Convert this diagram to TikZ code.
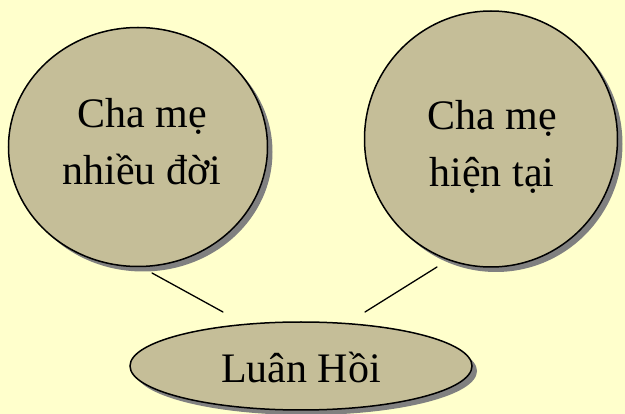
\documentclass[tikz,border=0pt]{standalone}
\usepackage{fontspec}
\setmainfont{Liberation Serif}
\usetikzlibrary{shapes.geometric,shadows}
\definecolor{bgyellow}{RGB}{255,255,204}
\definecolor{tanfill}{RGB}{197,190,152}
\definecolor{shadgray}{RGB}{128,128,128}
\begin{document}
\begin{tikzpicture}[x=1pt,y=-1pt,
  blob/.style={ellipse,draw=black,line width=1.5pt,fill=tanfill,inner sep=0pt,
    drop shadow={shadow xshift=5pt,shadow yshift=-5pt,fill=shadgray,opacity=1}},
  txt/.style={align=center,inner sep=0pt,font=\fontsize{42}{57}\selectfont},
  link/.style={line width=1.3pt,line cap=round}]
\fill[bgyellow] (0,0) rectangle (625,414);
\useasboundingbox (0,0) rectangle (625,414);
% shapes
\node[blob,minimum width=259pt,minimum height=239pt] (left) at (138,147) {};
\node[blob,minimum width=253pt,minimum height=256pt] (right) at (491,139) {};
\node[blob,minimum width=342pt,minimum height=88pt] (bottom) at (301,366) {};
% texts
\node[txt] (lefttxt) at (142,142) {Cha mẹ\\nhiều đời};
\node[txt] (righttxt) at (492,147) {Cha mẹ\\hiện tại};
\node[txt,anchor=base] (bottomtxt) at (301,383) {Luân Hồi};
% connectors
\coordinate (l1) at (152,273);
\coordinate (l2) at (223,312);
\coordinate (r1) at (437,267);
\coordinate (r2) at (365,312);
\draw[link] (l1) -- (l2);
\draw[link] (r1) -- (r2);
\end{tikzpicture}
\end{document}
